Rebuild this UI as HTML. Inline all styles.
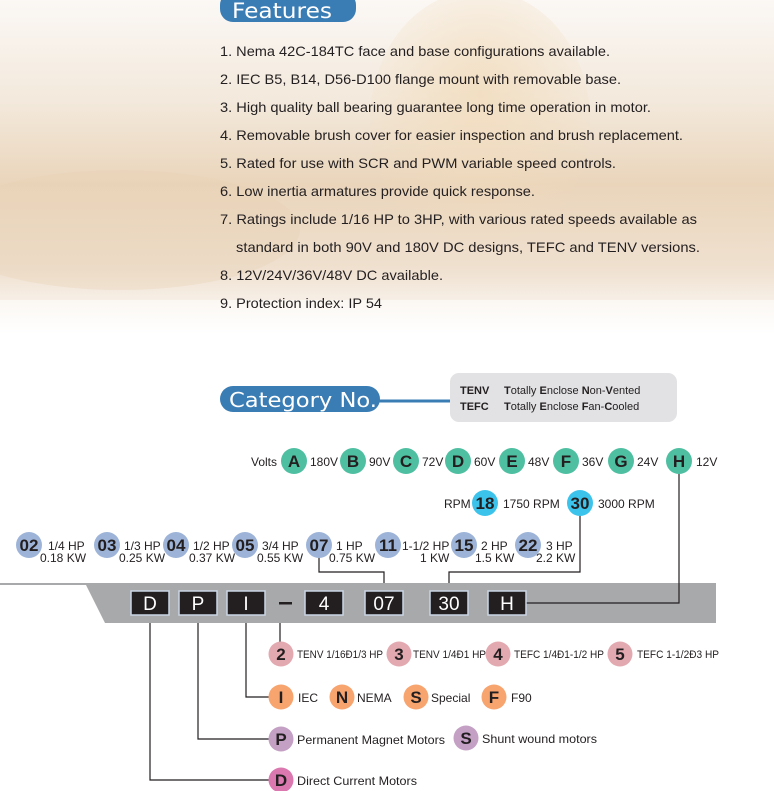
<!DOCTYPE html>
<html><head><meta charset="utf-8"><style>
html,body{margin:0;padding:0;background:#fff;}
svg{display:block;font-family:"Liberation Sans",sans-serif;}
</style></head><body>
<svg width="774" height="791" viewBox="0 0 774 791" xmlns="http://www.w3.org/2000/svg">
<defs>
<linearGradient id="bg" x1="0" y1="0" x2="0" y2="1">
<stop offset="0" stop-color="#fbf8f5"/>
<stop offset="0.3" stop-color="#f3e9dc"/>
<stop offset="0.55" stop-color="#ead5bb"/>
<stop offset="0.8" stop-color="#efe0cf"/>
<stop offset="1" stop-color="#ffffff"/>
</linearGradient>
<radialGradient id="rock" cx="0.5" cy="0.4" r="0.6">
<stop offset="0" stop-color="#f2dcbc"/>
<stop offset="1" stop-color="#f2dcbc" stop-opacity="0"/>
</radialGradient>
</defs>
<rect x="0" y="0" width="774" height="335" fill="url(#bg)"/>
<ellipse cx="480" cy="120" rx="110" ry="130" fill="url(#rock)" opacity="0.8"/>
<ellipse cx="120" cy="230" rx="180" ry="60" fill="#e9d2b4" opacity="0.35"/>
<rect x="0" y="300" width="774" height="40" fill="#fff" opacity="0.5"/>

<rect x="220" y="-8" width="136" height="30" rx="13" fill="#3a7db5"/>
<text x="232" y="18" font-size="21" fill="#fff" font-family="DejaVu Sans, sans-serif" textLength="100" lengthAdjust="spacingAndGlyphs">Features</text>

<g font-size="14" fill="#231f20">
<text x="220" y="56" textLength="390" lengthAdjust="spacingAndGlyphs">1. Nema 42C-184TC face and base configurations available.</text>
<text x="220" y="84" textLength="401" lengthAdjust="spacingAndGlyphs">2. IEC B5, B14, D56-D100 flange mount with removable base.</text>
<text x="220" y="112" textLength="431" lengthAdjust="spacingAndGlyphs">3. High quality ball bearing guarantee long time operation in motor.</text>
<text x="220" y="140" textLength="463" lengthAdjust="spacingAndGlyphs">4. Removable brush cover for easier inspection and brush replacement.</text>
<text x="220" y="168" textLength="396" lengthAdjust="spacingAndGlyphs">5. Rated for use with SCR and PWM variable speed controls.</text>
<text x="220" y="196" textLength="315" lengthAdjust="spacingAndGlyphs">6. Low inertia armatures provide quick response.</text>
<text x="220" y="224" textLength="477" lengthAdjust="spacingAndGlyphs">7. Ratings include 1/16 HP to 3HP, with various rated speeds available as</text>
<text x="236" y="252" textLength="464" lengthAdjust="spacingAndGlyphs">standard in both 90V and 180V DC designs, TEFC and TENV versions.</text>
<text x="220" y="280" textLength="223" lengthAdjust="spacingAndGlyphs">8. 12V/24V/36V/48V DC available.</text>
<text x="220" y="308" textLength="162" lengthAdjust="spacingAndGlyphs">9. Protection index: IP 54</text>
</g>

<line x1="375" y1="401" x2="452" y2="401" stroke="#3a7db5" stroke-width="3"/>
<rect x="220" y="386" width="160" height="26" rx="13" fill="#3a7db5"/>
<text x="229" y="407" font-size="20" fill="#fff" font-family="DejaVu Sans, sans-serif" textLength="148" lengthAdjust="spacingAndGlyphs">Category No.</text>
<rect x="450" y="373" width="227" height="49" rx="9" fill="#e2e2e4"/>
<g font-size="11" fill="#231f20">
<text x="460" y="394"><tspan font-weight="bold">TENV</tspan><tspan x="504"><tspan font-weight="bold">T</tspan>otally <tspan font-weight="bold">E</tspan>nclose <tspan font-weight="bold">N</tspan>on-<tspan font-weight="bold">V</tspan>ented</tspan></text>
<text x="460" y="410"><tspan font-weight="bold">TEFC</tspan><tspan x="504"><tspan font-weight="bold">T</tspan>otally <tspan font-weight="bold">E</tspan>nclose <tspan font-weight="bold">F</tspan>an-<tspan font-weight="bold">C</tspan>ooled</tspan></text>
</g>

<g stroke="#231f20" stroke-width="1.2" fill="none">
<polyline points="319,557 319,572 384,572 384,591"/>
<polyline points="580,515 580,572 449,572 449,591"/>
<polyline points="679,473 679,603 526,603"/>
<polyline points="305,616 280,616 280,642"/>
<polyline points="246,614 246,697 270,697"/>
<polyline points="198,614 198,739 270,739"/>
<polyline points="150,614 150,780 270,780"/>
</g>

<g font-size="12" fill="#231f20">
<text x="251" y="466">Volts</text>
<text x="310" y="466">180V</text>
<text x="369" y="466">90V</text>
<text x="422" y="466">72V</text>
<text x="474" y="466">60V</text>
<text x="528" y="466">48V</text>
<text x="582" y="466">36V</text>
<text x="637" y="466">24V</text>
<text x="696" y="466">12V</text>
</g>
<g fill="#4fbfa1">
<circle cx="294" cy="461" r="13"/><circle cx="353" cy="461" r="13"/><circle cx="406" cy="461" r="13"/><circle cx="458" cy="461" r="13"/><circle cx="512" cy="461" r="13"/><circle cx="566" cy="461" r="13"/><circle cx="621" cy="461" r="13"/><circle cx="679" cy="461" r="13"/>
</g>
<g font-size="17" font-weight="bold" fill="#231f20" text-anchor="middle">
<text x="294" y="467">A</text><text x="353" y="467">B</text><text x="406" y="467">C</text><text x="458" y="467">D</text><text x="512" y="467">E</text><text x="566" y="467">F</text><text x="621" y="467">G</text><text x="679" y="467">H</text>
</g>

<g font-size="12" fill="#231f20">
<text x="444" y="508">RPM</text>
<text x="503" y="508">1750 RPM</text>
<text x="598" y="508">3000 RPM</text>
</g>
<circle cx="485" cy="503" r="13" fill="#3cc3ec"/><circle cx="580" cy="503" r="13" fill="#3cc3ec"/>
<g font-size="17" font-weight="bold" fill="#231f20" text-anchor="middle">
<text x="485" y="509">18</text><text x="580" y="509">30</text>
</g>

<g fill="#9db4d8">
<circle cx="29" cy="545" r="13"/><circle cx="107" cy="545" r="13"/><circle cx="176" cy="545" r="13"/><circle cx="245" cy="545" r="13"/><circle cx="319" cy="545" r="13"/><circle cx="388" cy="545" r="13"/><circle cx="464" cy="545" r="13"/><circle cx="528" cy="545" r="13"/>
</g>
<g font-size="17" font-weight="bold" fill="#231f20" text-anchor="middle">
<text x="29" y="551">02</text><text x="107" y="551">03</text><text x="176" y="551">04</text><text x="245" y="551">05</text><text x="319" y="551">07</text><text x="388" y="551">11</text><text x="464" y="551">15</text><text x="528" y="551">22</text>
</g>
<g font-size="12" fill="#231f20">
<text x="48" y="550">1/4 HP</text><text x="40" y="562">0.18 KW</text>
<text x="124" y="550">1/3 HP</text><text x="119" y="562">0.25 KW</text>
<text x="193" y="550">1/2 HP</text><text x="189" y="562">0.37 KW</text>
<text x="262" y="550">3/4 HP</text><text x="257" y="562">0.55 KW</text>
<text x="336" y="550">1 HP</text><text x="329" y="562">0.75 KW</text>
<text x="402" y="550">1-1/2 HP</text><text x="420" y="562">1 KW</text>
<text x="481" y="550">2 HP</text><text x="475" y="562">1.5 KW</text>
<text x="546" y="550">3 HP</text><text x="536" y="562">2.2 KW</text>
</g>

<line x1="0" y1="584" x2="90" y2="584" stroke="#a8a9ab" stroke-width="2"/>
<polygon points="85,583 716,583 716,623 105,623" fill="#a8a9ab"/>
<polyline points="679,583 679,603 526,603" stroke="#231f20" stroke-width="1.2" fill="none"/>
<g stroke="#c9d6e4" stroke-width="1.5" fill="#231f20">
<rect x="131" y="591" width="38" height="24"/>
<rect x="179" y="591" width="38" height="24"/>
<rect x="227" y="591" width="38" height="24"/>
<rect x="305" y="591" width="38" height="24"/>
<rect x="365" y="591" width="38" height="24"/>
<rect x="430" y="591" width="38" height="24"/>
<rect x="488" y="591" width="38" height="24"/>
</g>
<rect x="279" y="602" width="13" height="2.5" fill="#231f20"/>
<g font-size="19" fill="#fff" text-anchor="middle">
<text x="150" y="610">D</text><text x="198" y="610">P</text><text x="246" y="610">I</text><text x="324" y="610">4</text><text x="384" y="610">07</text><text x="449" y="610">30</text><text x="507" y="610">H</text>
</g>

<g fill="#e3a9b0"><circle cx="281" cy="654" r="12.5"/><circle cx="399" cy="654" r="12.5"/><circle cx="498" cy="654" r="12.5"/><circle cx="620" cy="654" r="12.5"/></g>
<g fill="#f7a46f"><circle cx="281" cy="697" r="12.5"/><circle cx="342" cy="697" r="12.5"/><circle cx="416" cy="697" r="12.5"/><circle cx="494" cy="697" r="12.5"/></g>
<g fill="#c4a0c4"><circle cx="281" cy="739" r="12.5"/><circle cx="466" cy="738" r="12.5"/></g>
<circle cx="281" cy="780" r="12.5" fill="#db78b0"/>
<g font-size="17" font-weight="bold" fill="#231f20" text-anchor="middle">
<text x="281" y="660">2</text><text x="399" y="660">3</text><text x="498" y="660">4</text><text x="620" y="660">5</text>
<text x="281" y="703">I</text><text x="342" y="703">N</text><text x="416" y="703">S</text><text x="494" y="703">F</text>
<text x="281" y="745">P</text><text x="466" y="744">S</text>
<text x="281" y="786">D</text>
</g>
<g font-size="11" fill="#231f20">
<text x="297" y="658" textLength="86" lengthAdjust="spacingAndGlyphs">TENV 1/16Ð1/3 HP</text>
<text x="413" y="658" textLength="73" lengthAdjust="spacingAndGlyphs">TENV 1/4Ð1 HP</text>
<text x="514" y="658" textLength="90" lengthAdjust="spacingAndGlyphs">TEFC 1/4Ð1-1/2 HP</text>
<text x="637" y="658" textLength="82" lengthAdjust="spacingAndGlyphs">TEFC 1-1/2Ð3 HP</text>
</g>
<g font-size="12" fill="#231f20">
<text x="298" y="702">IEC</text><text x="357" y="702">NEMA</text><text x="431" y="702">Special</text><text x="511" y="702">F90</text>
<text x="297" y="744" textLength="148" lengthAdjust="spacingAndGlyphs">Permanent Magnet Motors</text><text x="482" y="743" textLength="115" lengthAdjust="spacingAndGlyphs">Shunt wound motors</text>
<text x="297" y="785" textLength="120" lengthAdjust="spacingAndGlyphs">Direct Current Motors</text>
</g>
</svg>
</body></html>
